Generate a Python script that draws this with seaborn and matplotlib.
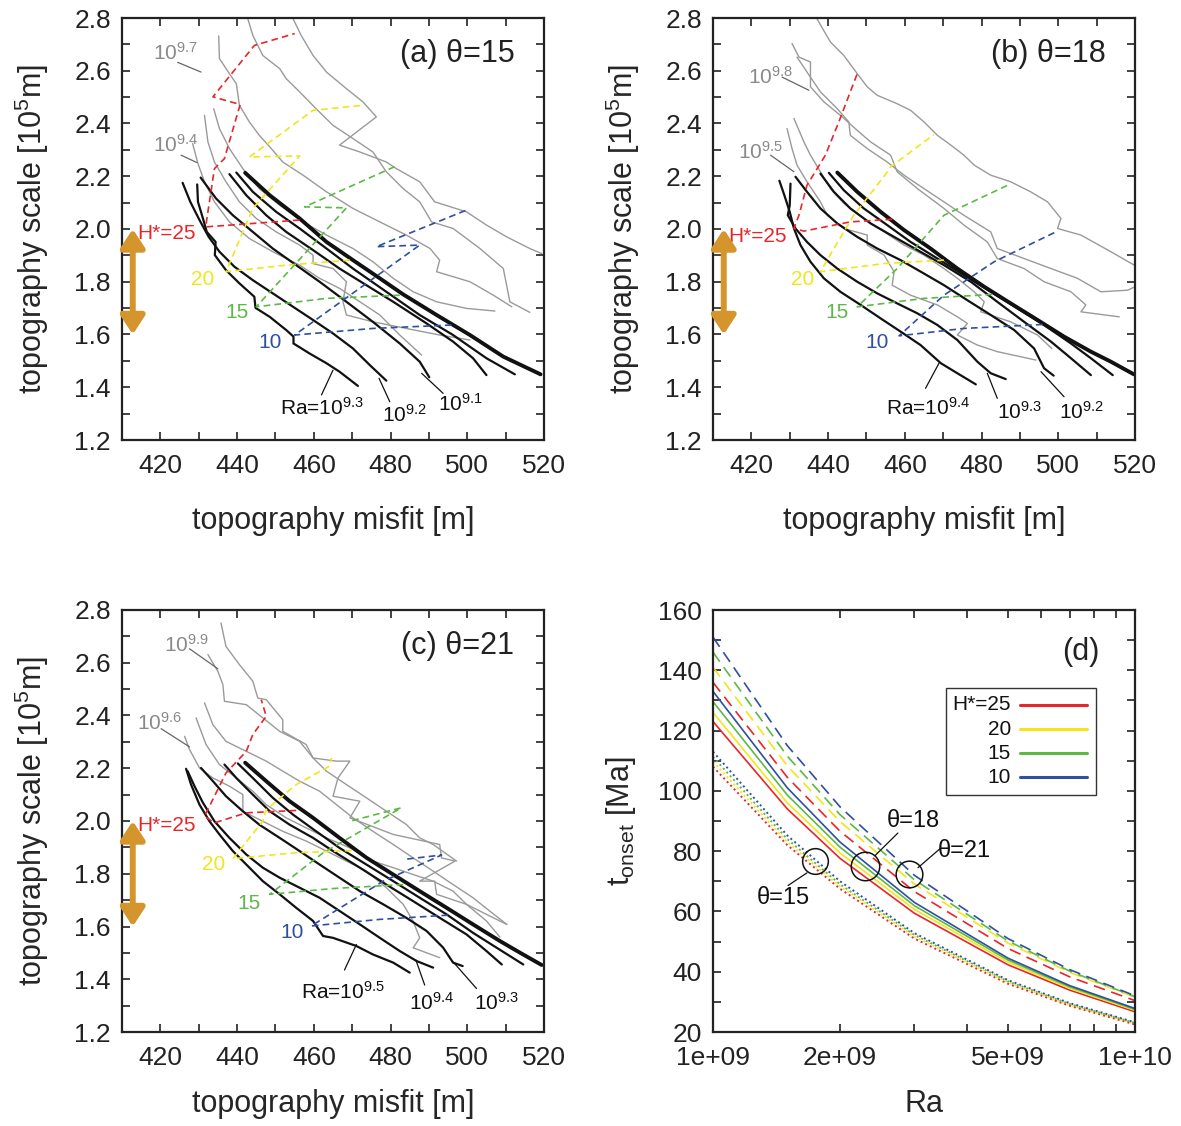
import numpy as np
import pandas as pd
import matplotlib
matplotlib.use("Agg")
import matplotlib.pyplot as plt
import seaborn as sns
from matplotlib.ticker import MultipleLocator, FormatStrFormatter, FixedLocator, NullFormatter
from matplotlib.patches import Rectangle
from matplotlib.lines import Line2D

# ---------------- colours ----------------
RED, YEL, GRN, BLU = "#e8262a", "#f2e51c", "#5cb946", "#2f4f9f"
GRAY = "#9a9a9a"
ORANGE = "#d4952c"
H_COLORS = [RED, YEL, GRN, BLU]
H_LABELS = ["H*=25", "20", "15", "10"]

# ---------------- panel (a) theta=15 ----------------
A_BLACK_X = [
    [429.6, 429.8, 431.1, 432.1, 434.4, 434.2, 437.1, 440.6, 444.5, 444.8, 448.5, 452.8, 454.7, 454.7, 458.9, 463.3, 466.7, 471.5],
    [425.8, 427.8, 430.2, 432.6, 435.4, 439.3, 444.1, 449.3, 454.6, 459.8, 465.0, 470.2, 474.6, 478.9],
    [430.5, 434.5, 438.9, 444.1, 449.3, 455.4, 461.5, 468.5, 475.4, 482.4, 487.6, 490.1],
    [438.0, 442.4, 447.6, 452.8, 459.8, 466.7, 473.7, 480.7, 489.4, 496.3, 501.5, 505.0],
    [439.8, 444.1, 450.2, 456.3, 463.3, 470.2, 478.9, 487.6, 496.3, 505.0, 512.4],
    [442.1, 448.5, 456.3, 463.3, 470.2, 477.2, 483.3, 492.0, 500.7, 509.4, 519.1],
]
A_BLACK_Y = [
    [2.169, 2.103, 2.040, 1.989, 1.951, 1.901, 1.844, 1.794, 1.743, 1.701, 1.667, 1.617, 1.592, 1.566, 1.528, 1.491, 1.459, 1.405],
    [2.175, 2.103, 2.034, 1.970, 1.914, 1.857, 1.806, 1.756, 1.705, 1.655, 1.604, 1.547, 1.484, 1.425],
    [2.195, 2.116, 2.052, 1.989, 1.926, 1.863, 1.800, 1.724, 1.648, 1.566, 1.497, 1.438],
    [2.208, 2.128, 2.052, 1.989, 1.920, 1.850, 1.787, 1.724, 1.642, 1.573, 1.510, 1.446],
    [2.214, 2.141, 2.065, 2.002, 1.926, 1.850, 1.762, 1.674, 1.598, 1.510, 1.449],
    [2.213, 2.128, 2.040, 1.951, 1.882, 1.813, 1.752, 1.674, 1.598, 1.516, 1.449],
]
A_GRAY_X = [
    [428.4, 429.8, 431.5, 434.1, 438.0, 443.2, 449.3, 456.3, 461.5, 466.7, 472.0, 477.2, 482.4, 488.1],
    [431.5, 432.4, 434.1, 437.1, 440.6, 445.0, 450.2, 456.3, 459.8, 459.8, 465.0, 468.5, 467.6, 468.5, 475.4, 484.1, 492.8, 500.7],
    [433.9, 435.4, 438.0, 441.5, 445.8, 451.1, 457.2, 463.3, 470.2, 475.4, 480.7, 485.9, 492.0, 499.8, 507.2],
    [435.2, 435.4, 438.0, 439.8, 440.6, 443.2, 445.8, 448.9, 451.9, 457.2, 463.3, 470.2, 477.2, 484.1, 490.3, 492.8, 492.0, 500.7, 506.8, 511.6],
    [442.8, 444.1, 446.7, 451.1, 452.8, 456.3, 460.6, 465.0, 470.2, 475.4, 478.9, 483.3, 487.6, 490.7, 496.3, 503.3, 509.4, 511.1, 516.3],
    [454.6, 456.7, 459.8, 463.3, 468.5, 472.8, 476.3, 466.7, 472.0, 478.9, 481.5, 487.6, 491.5, 499.8, 505.0, 510.3, 516.3, 519.4],
]
A_GRAY_Y = [
    [2.324, 2.248, 2.179, 2.103, 2.027, 1.964, 1.914, 1.863, 1.813, 1.775, 1.724, 1.674, 1.598, 1.522],
    [2.431, 2.330, 2.254, 2.179, 2.103, 2.040, 1.989, 1.939, 1.901, 1.869, 1.850, 1.800, 1.724, 1.674, 1.648, 1.623, 1.598, 1.579],
    [2.456, 2.381, 2.305, 2.229, 2.153, 2.090, 2.027, 1.977, 1.926, 1.876, 1.813, 1.762, 1.724, 1.699, 1.689],
    [2.732, 2.646, 2.589, 2.551, 2.469, 2.406, 2.355, 2.305, 2.254, 2.204, 2.141, 2.078, 2.027, 1.977, 1.926, 1.882, 1.838, 1.800, 1.749, 1.705],
    [2.797, 2.734, 2.658, 2.608, 2.570, 2.520, 2.456, 2.393, 2.343, 2.292, 2.217, 2.153, 2.103, 2.027, 2.002, 1.926, 1.850, 1.724, 1.684],
    [2.797, 2.734, 2.658, 2.595, 2.532, 2.482, 2.425, 2.318, 2.292, 2.254, 2.229, 2.179, 2.103, 2.065, 2.015, 1.970, 1.926, 1.907],
]
A_DASH_X = [
    [456.3, 444.1, 431.8, 434.1, 436.7, 440.8, 433.7, 444.5, 455.0],
    [469.4, 452.8, 437.1, 444.1, 456.3, 443.2, 459.8, 472.8],
    [482.4, 463.3, 445.0, 468.5, 457.6, 481.5],
    [495.9, 475.4, 455.0, 487.6, 476.3, 500.2],
]
A_DASH_Y = [
    [2.034, 2.021, 2.008, 2.229, 2.267, 2.472, 2.501, 2.696, 2.741],
    [1.882, 1.863, 1.838, 2.078, 2.277, 2.273, 2.450, 2.469],
    [1.749, 1.737, 1.705, 2.080, 2.084, 2.239],
    [1.636, 1.623, 1.598, 1.939, 1.933, 2.074],
]
A_HLAB_XY = [(429.3, 1.962), (431.0, 1.787), (440.0, 1.661), (448.6, 1.547)]
A_GRAY_LAB = ["$10^{9.7}$", "$10^{9.4}$"]
A_GRAY_LAB_XY = [(424.0, 2.640), (424.1, 2.292)]
A_GRAY_LEAD = [[(424.5, 2.632), (430.6, 2.595)], [(425.4, 2.280), (429.5, 2.252)]]
A_RA_LAB = ["Ra=$10^{9.3}$", "$10^{9.2}$", "$10^{9.1}$"]
A_RA_LAB_XY = [(462.0, 1.295), (483.7, 1.270), (498.2, 1.311)]
A_RA_LEAD = [[(462.0, 1.371), (465.0, 1.465)], [(479.8, 1.345), (477.0, 1.434)], [(493.7, 1.377), (488.1, 1.453)]]

# ---------------- panel (b) theta=18 ----------------
B_BLACK_X = [
    [427.3, 428.6, 430.0, 431.1, 432.8, 435.4, 438.9, 443.2, 448.5, 453.7, 458.9, 464.1, 469.4, 473.7, 478.5],
    [430.2, 430.0, 429.5, 431.5, 434.5, 438.0, 442.4, 447.6, 452.8, 458.0, 463.3, 468.5, 473.7, 478.9, 482.4, 486.3],
    [431.5, 434.5, 438.0, 442.4, 447.6, 452.8, 458.9, 465.0, 470.2, 476.3, 482.4, 488.5, 493.7, 496.3, 498.8],
    [438.0, 441.5, 445.8, 451.1, 457.2, 463.3, 470.2, 477.2, 484.1, 491.1, 498.1, 503.3, 508.5],
    [440.2, 444.1, 449.3, 455.4, 461.5, 468.5, 475.4, 482.4, 489.4, 496.3, 503.3, 508.5, 514.2],
    [442.4, 447.6, 453.7, 459.8, 466.7, 473.7, 480.7, 487.6, 494.6, 501.5, 508.5, 513.7, 519.7],
]
B_BLACK_Y = [
    [2.183, 2.128, 2.065, 2.002, 1.939, 1.876, 1.813, 1.762, 1.712, 1.661, 1.611, 1.560, 1.491, 1.453, 1.411],
    [2.172, 2.090, 2.052, 2.002, 1.951, 1.901, 1.850, 1.800, 1.756, 1.718, 1.680, 1.636, 1.579, 1.497, 1.453, 1.431],
    [2.198, 2.141, 2.078, 2.021, 1.970, 1.926, 1.882, 1.831, 1.787, 1.730, 1.674, 1.617, 1.547, 1.472, 1.444],
    [2.210, 2.141, 2.078, 2.021, 1.970, 1.920, 1.863, 1.800, 1.724, 1.648, 1.573, 1.510, 1.446],
    [2.213, 2.147, 2.078, 2.015, 1.951, 1.888, 1.825, 1.762, 1.699, 1.636, 1.566, 1.510, 1.446],
    [2.214, 2.141, 2.065, 1.996, 1.926, 1.850, 1.781, 1.718, 1.655, 1.592, 1.535, 1.497, 1.449],
]
B_GRAY_X = [
    [429.3, 430.6, 431.9, 434.5, 438.0, 439.8, 444.1, 450.2, 450.2, 454.6, 457.2, 456.7, 461.5, 468.5, 473.7, 476.3, 473.7, 478.9, 484.1, 494.2],
    [431.1, 433.7, 435.4, 438.0, 440.6, 444.1, 449.3, 454.6, 459.8, 465.0, 470.2, 473.7, 478.1, 480.7, 479.8, 487.6, 494.6, 498.3],
    [431.9, 434.5, 438.0, 442.4, 445.4, 445.8, 450.2, 455.4, 459.8, 465.0, 470.2, 475.4, 482.4, 484.1, 491.1, 498.1, 505.0, 511.1, 518.1, 520.0],
    [430.6, 432.4, 435.4, 435.4, 438.9, 443.2, 447.6, 451.1, 456.3, 458.0, 463.3, 470.2, 475.4, 481.5, 484.1, 491.1, 496.3, 503.3, 507.2, 505.9, 515.9],
    [437.1, 440.6, 444.1, 447.6, 450.2, 452.8, 458.0, 461.5, 465.0, 468.5, 472.0, 475.4, 478.1, 482.4, 487.6, 492.8, 497.2, 500.7, 499.8, 505.9, 513.7, 519.8],
]
B_GRAY_Y = [
    [2.381, 2.305, 2.242, 2.179, 2.103, 2.052, 2.002, 1.977, 1.939, 1.901, 1.838, 1.787, 1.749, 1.712, 1.667, 1.642, 1.598, 1.560, 1.535, 1.503],
    [2.419, 2.330, 2.280, 2.217, 2.153, 2.097, 2.040, 1.989, 1.939, 1.901, 1.850, 1.813, 1.762, 1.724, 1.686, 1.648, 1.598, 1.547],
    [2.652, 2.595, 2.520, 2.456, 2.406, 2.355, 2.305, 2.254, 2.204, 2.153, 2.103, 2.052, 1.989, 1.926, 1.888, 1.850, 1.813, 1.762, 1.768, 1.781],
    [2.703, 2.652, 2.633, 2.539, 2.482, 2.431, 2.374, 2.330, 2.280, 2.217, 2.153, 2.078, 2.015, 1.951, 1.888, 1.850, 1.800, 1.762, 1.712, 1.686, 1.667],
    [2.797, 2.709, 2.658, 2.589, 2.539, 2.507, 2.475, 2.450, 2.406, 2.355, 2.318, 2.280, 2.242, 2.204, 2.179, 2.141, 2.103, 2.040, 2.002, 1.977, 1.914, 1.863],
]
B_DASH_X = [
    [456.7, 445.8, 433.7, 431.1, 432.4, 434.5, 439.3, 442.8, 447.6],
    [470.2, 454.6, 438.0, 441.5, 446.7, 455.8, 456.3, 467.6],
    [482.8, 465.0, 447.6, 458.0, 470.2, 486.8],
    [495.9, 475.4, 458.5, 470.2, 483.3, 499.8],
]
B_DASH_Y = [
    [2.037, 2.027, 1.992, 2.002, 2.052, 2.166, 2.280, 2.406, 2.589],
    [1.882, 1.869, 1.838, 1.926, 2.052, 2.223, 2.236, 2.358],
    [1.752, 1.737, 1.705, 1.850, 2.052, 2.166],
    [1.638, 1.623, 1.595, 1.749, 1.876, 1.992],
]
B_HLAB_XY = [(429.3, 1.952), (433.4, 1.787), (442.2, 1.661), (452.8, 1.550)]
B_GRAY_LAB = ["$10^{9.8}$", "$10^{9.5}$"]
B_GRAY_LAB_XY = [(425.1, 2.551), (422.5, 2.267)]
B_GRAY_LEAD = [[(428.0, 2.576), (435.0, 2.526)], [(425.0, 2.280), (431.1, 2.217)]]
B_RA_LAB = ["Ra=$10^{9.4}$", "$10^{9.3}$", "$10^{9.2}$"]
B_RA_LAB_XY = [(466.0, 1.295), (489.8, 1.282), (506.1, 1.282)]
B_RA_LEAD = [[(465.4, 1.396), (468.9, 1.491)], [(484.1, 1.358), (481.5, 1.453)], [(501.5, 1.364), (495.5, 1.459)]]

# ---------------- panel (c) theta=21 ----------------
C_BLACK_X = [
    [426.7, 428.0, 430.2, 432.8, 435.4, 438.9, 442.4, 446.7, 451.1, 455.4, 459.8, 462.4, 465.0, 471.1, 475.4, 480.7, 485.0],
    [427.1, 428.9, 431.1, 434.1, 438.0, 442.4, 446.7, 451.1, 456.3, 461.5, 466.7, 472.0, 477.2, 482.4, 486.8, 491.1],
    [430.6, 433.7, 437.1, 441.5, 445.8, 451.1, 456.3, 461.5, 466.7, 472.0, 478.1, 484.1, 489.4, 493.7, 496.3, 498.8],
    [436.7, 439.8, 444.1, 448.5, 453.7, 459.8, 465.0, 472.0, 478.9, 485.9, 492.8, 499.8, 505.0, 509.0],
    [440.2, 444.1, 449.3, 454.6, 460.6, 466.7, 473.7, 480.7, 487.6, 494.6, 501.5, 507.6, 514.6],
    [442.1, 447.6, 453.7, 459.8, 466.7, 473.7, 480.7, 487.6, 494.6, 501.5, 508.5, 513.7, 519.4],
]
C_BLACK_Y = [
    [2.198, 2.138, 2.062, 1.999, 1.949, 1.886, 1.835, 1.772, 1.722, 1.671, 1.621, 1.564, 1.557, 1.526, 1.494, 1.463, 1.425],
    [2.189, 2.132, 2.069, 1.999, 1.936, 1.873, 1.823, 1.785, 1.747, 1.709, 1.659, 1.608, 1.557, 1.507, 1.469, 1.444],
    [2.201, 2.151, 2.094, 2.037, 1.986, 1.936, 1.886, 1.835, 1.785, 1.734, 1.684, 1.633, 1.583, 1.520, 1.463, 1.450],
    [2.214, 2.163, 2.100, 2.037, 1.986, 1.936, 1.886, 1.823, 1.759, 1.696, 1.633, 1.570, 1.507, 1.456],
    [2.218, 2.163, 2.088, 2.024, 1.961, 1.898, 1.835, 1.772, 1.709, 1.646, 1.576, 1.520, 1.456],
    [2.221, 2.151, 2.075, 2.012, 1.936, 1.861, 1.797, 1.734, 1.671, 1.608, 1.545, 1.501, 1.454],
]
C_GRAY_X = [
    [426.3, 427.6, 430.2, 433.7, 438.0, 441.5, 441.5, 446.7, 451.9, 458.0, 463.3, 468.5, 473.7, 478.9, 483.3, 485.9, 487.6, 485.9, 492.8],
    [429.3, 431.9, 435.4, 439.8, 444.1, 447.6, 452.8, 458.0, 463.3, 469.4, 475.4, 480.7, 485.9, 491.1, 496.3, 499.8, 505.0, 508.5],
    [431.5, 433.7, 437.1, 442.4, 447.6, 451.9, 456.3, 461.5, 465.9, 470.2, 475.4, 480.7, 485.9, 491.1, 496.3, 501.5, 505.9, 510.3],
    [435.8, 437.1, 440.6, 444.1, 445.4, 447.6, 451.9, 451.9, 458.0, 459.8, 465.9, 469.4, 466.3, 465.0, 472.0, 469.4, 480.7, 492.8, 493.3, 496.8, 487.6, 491.5, 492.0, 499.8, 505.0, 510.3],
    [432.4, 435.0, 436.3, 436.7, 442.4, 446.7, 451.1, 456.3, 459.8, 463.3, 468.5, 473.7, 478.9, 484.1, 487.6, 491.1, 497.2],
]
C_GRAY_Y = [
    [2.321, 2.271, 2.201, 2.163, 2.132, 2.100, 2.037, 1.999, 1.961, 1.924, 1.886, 1.848, 1.810, 1.747, 1.684, 1.620, 1.557, 1.519, 1.482],
    [2.391, 2.290, 2.214, 2.163, 2.113, 2.062, 2.012, 1.974, 1.936, 1.898, 1.848, 1.823, 1.797, 1.772, 1.734, 1.684, 1.621, 1.560],
    [2.448, 2.365, 2.302, 2.264, 2.227, 2.189, 2.151, 2.113, 2.062, 2.012, 1.961, 1.911, 1.860, 1.810, 1.759, 1.709, 1.658, 1.608],
    [2.751, 2.662, 2.593, 2.530, 2.466, 2.460, 2.384, 2.340, 2.290, 2.239, 2.227, 2.227, 2.163, 2.094, 2.075, 2.012, 1.949, 1.911, 1.860, 1.848, 1.772, 1.772, 1.722, 1.684, 1.646, 1.608],
    [2.631, 2.567, 2.517, 2.454, 2.441, 2.391, 2.340, 2.302, 2.239, 2.189, 2.138, 2.088, 2.037, 1.987, 1.936, 1.911, 1.848],
]
C_DASH_X = [
    [455.4, 442.4, 434.1, 431.5, 437.1, 442.4, 444.1, 447.6, 446.3],
    [469.8, 454.6, 438.9, 446.7, 447.6, 455.4, 464.1, 464.6],
    [483.3, 465.0, 448.5, 462.4, 482.8, 469.4],
    [495.0, 477.2, 459.3, 478.1, 493.3, 483.3],
]
C_DASH_Y = [
    [2.040, 2.031, 1.993, 2.018, 2.182, 2.264, 2.328, 2.397, 2.460],
    [1.888, 1.879, 1.857, 1.999, 2.043, 2.138, 2.208, 2.239],
    [1.759, 1.744, 1.722, 1.879, 2.050, 1.999],
    [1.643, 1.627, 1.602, 1.772, 1.871, 1.854],
]
C_HLAB_XY = [(429.3, 1.961), (433.8, 1.816), (443.1, 1.668), (454.3, 1.557)]
C_GRAY_LAB = ["$10^{9.9}$", "$10^{9.6}$"]
C_GRAY_LAB_XY = [(426.7, 2.643), (419.9, 2.347)]
C_GRAY_LEAD = [[(427.6, 2.653), (435.0, 2.577)], [(420.2, 2.350), (427.6, 2.281)]]
C_RA_LAB = ["Ra=$10^{9.5}$", "$10^{9.4}$", "$10^{9.3}$"]
C_RA_LAB_XY = [(467.6, 1.324), (490.8, 1.286), (507.6, 1.286)]
C_RA_LEAD = [[(468.0, 1.435), (471.1, 1.532)], [(488.9, 1.378), (486.6, 1.473)], [(502.4, 1.365), (496.3, 1.466)]]

# ---------------- panel (d) onset time ----------------
RA = [1e9, 1.5e9, 2e9, 3e9, 5e9, 7e9, 1e10]
T15 = [  # dotted, theta=15: H*=25,20,15,10
    [108.0, 82.0, 67.5, 51.0, 36.0, 28.7, 22.5],
    [109.7, 83.0, 68.3, 51.7, 36.5, 29.0, 22.8],
    [111.3, 84.0, 69.0, 52.2, 36.8, 29.3, 23.0],
    [113.0, 85.2, 70.0, 52.8, 37.2, 29.6, 23.2],
]
T18 = [  # solid, theta=18
    [123.0, 94.0, 77.6, 59.4, 42.3, 33.9, 26.7],
    [126.0, 96.0, 79.4, 60.7, 43.2, 34.5, 27.2],
    [129.6, 98.6, 81.3, 61.9, 43.9, 35.0, 27.5],
    [133.0, 101.0, 83.0, 63.0, 44.5, 35.4, 27.8],
]
T21 = [  # dashed, theta=21
    [136.0, 104.5, 86.6, 66.6, 47.7, 38.3, 30.4],
    [141.0, 108.3, 89.8, 69.1, 49.5, 39.8, 31.5],
    [146.0, 111.5, 92.1, 70.5, 50.2, 40.2, 31.7],
    [151.0, 115.0, 94.7, 72.0, 51.0, 40.7, 32.0],
]
CIRCLE_RA = [1.745e9, 2.291e9, 2.914e9]
CIRCLE_T = [76.8, 75.2, 72.5]
CIRCLE_MS = [18.5, 20.5, 19.2]
THETA_LAB = ["θ=15", "θ=18", "θ=21"]
THETA_LAB_XY = [(1.466e9, 64.3), (2.98e9, 90.0), (3.95e9, 80.1)]
THETA_LEAD = [[(1.670e9, 72.8), (1.506e9, 68.6)], [(2.42e9, 78.5), (2.742e9, 86.0)], [(3.06e9, 74.5), (3.45e9, 80.8)]]

# ---------------- style ----------------
sns.set_theme(style="ticks")
plt.rcParams["font.family"] = ["Liberation Sans", "DejaVu Sans"]
plt.rcParams["mathtext.fontset"] = "custom"
plt.rcParams["mathtext.rm"] = "Liberation Sans"
plt.rcParams["mathtext.it"] = "Liberation Sans:italic"
plt.rcParams["mathtext.bf"] = "Liberation Sans:bold"
plt.rcParams["axes.linewidth"] = 1.6
plt.rcParams["axes.edgecolor"] = "#222222"

TICK_FS = 19
LABEL_FS = 22
TITLE_FS = 22
INNER_FS = 15

fig = plt.figure(figsize=(11.81, 11.26), dpi=100)
W, H = 1181.0, 1126.0
def pos(l, t, r, b):
    return [l / W, 1 - b / H, (r - l) / W, (b - t) / H]

ax_a = fig.add_axes(pos(122, 18, 544, 440))
ax_b = fig.add_axes(pos(713, 18, 1135, 440))
ax_c = fig.add_axes(pos(122, 610, 544, 1032))
ax_d = fig.add_axes(pos(713, 610, 1135, 1032))


def line(ax, xs, ys, color, lw, ls="-"):
    sns.lineplot(x=xs, y=ys, sort=False, estimator=None, color=color,
                 linewidth=lw, linestyle=ls, ax=ax, legend=False)


def common_ticks(ax):
    ax.tick_params(which="both", direction="in", top=True, right=True,
                   length=6, width=1.2, colors="#222222", labelcolor="#222222")
    ax.tick_params(axis="x", which="major", labelsize=TICK_FS, pad=10)
    ax.tick_params(axis="y", which="major", labelsize=TICK_FS, pad=8)
    for s in ax.spines.values():
        s.set_visible(True)
        s.set_linewidth(1.6)


def topo_panel(ax, bx, by, gx, gy, dx, dy, hxy, glab, gxy, glead, rlab, rxy, rlead, title, xpad):
    for xs, ys in zip(gx, gy):
        line(ax, xs, ys, GRAY, 1.0)
    for i, (xs, ys) in enumerate(zip(bx, by)):
        line(ax, xs, ys, "#111111", 2.8 if i == len(bx) - 1 else 1.6)
    for xs, ys, c in zip(dx, dy, H_COLORS):
        line(ax, xs, ys, c, 1.2, (0, (4, 2.5)))
    for (x, y), t, c in zip(hxy, H_LABELS, H_COLORS):
        ax.text(x, y, t, color=c, fontsize=INNER_FS, ha="right" if t.startswith("H") else "center",
                va="baseline")
    for t, (x, y), ld in zip(glab, gxy, glead):
        ax.text(x, y, t, color="#8a8a8a", fontsize=INNER_FS, ha="center", va="baseline")
        ax.plot([ld[0][0], ld[1][0]], [ld[0][1], ld[1][1]], color="#666666", lw=0.9)
    for t, (x, y), ld in zip(rlab, rxy, rlead):
        ax.text(x, y, t, color="#111111", fontsize=INNER_FS, ha="center", va="baseline")
        ax.plot([ld[0][0], ld[1][0]], [ld[0][1], ld[1][1]], color="#111111", lw=0.9)
    ax.annotate("", xy=(412.8, 1.6), xytext=(412.8, 2.0),
                arrowprops=dict(arrowstyle="<|-|>,head_length=0.55,head_width=0.36",
                                color=ORANGE, lw=4.3, shrinkA=0, shrinkB=0,
                                mutation_scale=20))
    ax.set_xlim(410, 520)
    ax.set_ylim(1.2, 2.8)
    ax.xaxis.set_major_locator(MultipleLocator(20))
    ax.xaxis.set_minor_locator(MultipleLocator(10))
    ax.yaxis.set_major_locator(MultipleLocator(0.2))
    ax.yaxis.set_minor_locator(MultipleLocator(0.1))
    ax.yaxis.set_major_formatter(FormatStrFormatter("%.1f"))
    common_ticks(ax)
    ax.set_xlabel("topography misfit [m]", fontsize=LABEL_FS, labelpad=xpad)
    ax.set_ylabel("topography scale [$10^{5}$m]", fontsize=LABEL_FS, labelpad=17)
    ax.text(0.93, 0.915, title, transform=ax.transAxes, fontsize=TITLE_FS,
            ha="right", va="center", color="#222222")


topo_panel(ax_a, A_BLACK_X, A_BLACK_Y, A_GRAY_X, A_GRAY_Y, A_DASH_X, A_DASH_Y,
           A_HLAB_XY, A_GRAY_LAB, A_GRAY_LAB_XY, A_GRAY_LEAD,
           A_RA_LAB, A_RA_LAB_XY, A_RA_LEAD, "(a) θ=15", 20)
topo_panel(ax_b, B_BLACK_X, B_BLACK_Y, B_GRAY_X, B_GRAY_Y, B_DASH_X, B_DASH_Y,
           B_HLAB_XY, B_GRAY_LAB, B_GRAY_LAB_XY, B_GRAY_LEAD,
           B_RA_LAB, B_RA_LAB_XY, B_RA_LEAD, "(b) θ=18", 20)
topo_panel(ax_c, C_BLACK_X, C_BLACK_Y, C_GRAY_X, C_GRAY_Y, C_DASH_X, C_DASH_Y,
           C_HLAB_XY, C_GRAY_LAB, C_GRAY_LAB_XY, C_GRAY_LEAD,
           C_RA_LAB, C_RA_LAB_XY, C_RA_LEAD, "(c) θ=21", 14)

# ---------------- panel (d) ----------------
ax = ax_d
ax.set_xscale("log")
for ys, c in zip(T21, H_COLORS):
    line(ax, RA, ys, c, 1.2, (0, (7, 4)))
for ys, c in zip(T18, H_COLORS):
    line(ax, RA, ys, c, 1.2, "-")
for ys, c in zip(T15, H_COLORS):
    line(ax, RA, ys, c, 1.4, (0, (1, 1.6)))
for x, y, ms in zip(CIRCLE_RA, CIRCLE_T, CIRCLE_MS):
    ax.plot([x], [y], marker="o", ms=ms, mfc="none", mec="#111111", mew=1.1)
for t, (x, y), ld in zip(THETA_LAB, THETA_LAB_XY, THETA_LEAD):
    ax.text(x, y, t, fontsize=17, ha="center", va="center", color="#111111")
    ax.plot([ld[0][0], ld[1][0]], [ld[0][1], ld[1][1]], color="#111111", lw=0.9)
ax.set_xlim(1e9, 1e10)
ax.set_ylim(20, 160)
ax.xaxis.set_major_locator(FixedLocator([1e9, 2e9, 5e9, 1e10]))
ax.xaxis.set_major_formatter(matplotlib.ticker.FixedFormatter(["1e+09", "2e+09", "5e+09", "1e+10"]))
ax.xaxis.set_minor_locator(FixedLocator([3e9, 4e9, 6e9, 7e9, 8e9, 9e9]))
ax.xaxis.set_minor_formatter(NullFormatter())
ax.yaxis.set_major_locator(MultipleLocator(20))
ax.yaxis.set_minor_locator(MultipleLocator(10))
common_ticks(ax)
ax.set_xlabel("Ra", fontsize=LABEL_FS, labelpad=14)
ax.set_ylabel(r"$\mathregular{t_{onset}}$ [Ma]", fontsize=LABEL_FS, labelpad=14)
ax.text(0.917, 0.90, "(d)", transform=ax.transAxes, fontsize=TITLE_FS,
        ha="right", va="center", color="#222222")

# legend box (drawn in axes fraction)
ax.add_patch(Rectangle((0.552, 0.561), 0.356, 0.253, transform=ax.transAxes,
                       facecolor="white", edgecolor="#333333", lw=1.0, zorder=5))
leg_y = [0.776, 0.717, 0.660, 0.604]
for yy, t, c in zip(leg_y, H_LABELS, H_COLORS):
    ax.text(0.706, yy, t, transform=ax.transAxes, fontsize=INNER_FS, ha="right",
            va="center", color="#111111", zorder=6)
    ax.add_line(Line2D([0.727, 0.886], [yy, yy], transform=ax.transAxes, color=c,
                       lw=2.2, zorder=6))

fig.savefig("out.png", dpi=100)
